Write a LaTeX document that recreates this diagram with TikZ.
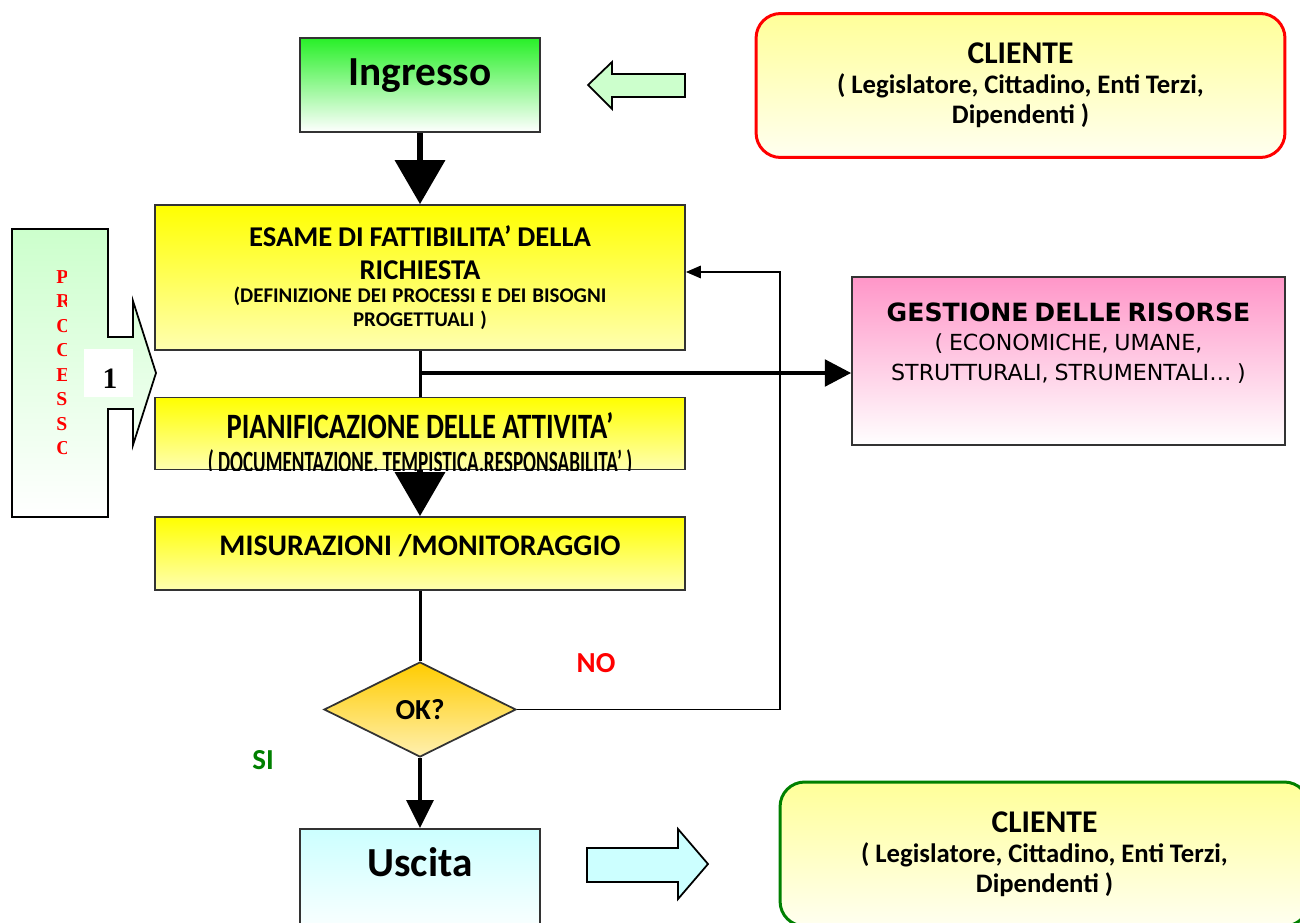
\documentclass[tikz,border=0pt]{standalone}
\usepackage{fontspec}
\setmainfont{Carlito}
\newfontfamily\dejavu{DejaVu Sans}
\newfontfamily\procfont{Liberation Serif}
\newfontfamily\narrowa{Carlito}[FakeStretch=0.8]
\newfontfamily\narrowb{Carlito}[FakeStretch=0.62]
\usetikzlibrary{arrows.meta,shapes.geometric,positioning}
\definecolor{ingtop}{RGB}{40,240,40}
\definecolor{yelbot}{RGB}{255,255,176}
\definecolor{clitop}{RGB}{255,255,153}
\definecolor{clibot}{RGB}{255,255,240}
\definecolor{gestop}{RGB}{255,150,200}
\definecolor{usctop}{RGB}{204,255,255}
\definecolor{oktop}{RGB}{255,204,0}
\definecolor{okbot}{RGB}{255,240,176}
\definecolor{procol}{RGB}{204,255,204}
\definecolor{sigreen}{RGB}{0,128,0}

\begin{document}
\begin{tikzpicture}[x=0.02cm,y=-0.02cm,inner sep=0pt]
 \tikzstyle{box}=[draw=black!80,line width=1pt,rectangle]
 \tikzstyle{ybox}=[box,top color=yellow,bottom color=yelbot,minimum width=10.6cm]
 \tikzstyle{cliente}=[line width=1.7pt,rounded corners=14pt,top color=clitop,bottom color=clibot,minimum width=10.58cm,minimum height=2.88cm,text width=10cm,align=center]
 \tikzstyle{bigarrow}=[line width=3.4pt,-{Triangle[length=25pt,width=28pt]}]
 \tikzstyle{link}=[line width=1.7pt]
 \tikzstyle{hollow}=[draw=black,line width=1pt]
 \tikzstyle{big}=[anchor=base,font={\fontsize{23.5}{28}\selectfont\bfseries}]
 \tikzstyle{mid}=[font={\fontsize{16.5}{20}\selectfont\bfseries}]

 \clip (0,0) rectangle (1300,922);

 % process arrow on the left
 \draw[line width=1pt,top color=procol,bottom color=white] (12,229) -- (108,229) -- (108,337) -- (133,337) -- (133,301) -- (156,373) -- (133,445) -- (133,409) -- (108,409) -- (108,517) -- (12,517) -- cycle;
 \fill[white] (84,349) rectangle (133,397);
 \node[anchor=base,font={\procfont\bfseries\fontsize{16.8}{20}\selectfont}] (one) at (110,388) {1};
 \begin{scope}
  \clip (12,229) rectangle (66,517);
  \node[anchor=north west,align=left,text=red,font={\procfont\bfseries\fontsize{11.2}{13.95}\selectfont}] (proc) at (56,270) {P\\R\\O\\C\\E\\S\\S\\O};
 \end{scope}

 % main column
 \node[box,top color=ingtop,bottom color=white,minimum width=4.8cm,minimum height=1.88cm] (ing) at (420,85) {};
 \node[big] (ingt) at (420,86) {Ingresso};
 \node[ybox,minimum height=2.9cm,text width=10cm,align=center] (esame) at (420,277.5) {{\fontsize{16.3}{18.7}\selectfont\bfseries ESAME DI FATTIBILITA’ DELLA\\ RICHIESTA\par}{\fontsize{11.9}{13.3}\selectfont\bfseries (DEFINIZIONE DEI PROCESSI E DEI BISOGNI\\ PROGETTUALI )\par}};
 \node[ybox,minimum height=1.44cm] (pian) at (420,433.5) {};
 \begin{scope}
  \clip (pian.north west) rectangle (pian.south east);
  \node[anchor=base,font={\narrowa\fontsize{20.3}{24}\selectfont\bfseries}] (piant) at (420,438) {PIANIFICAZIONE DELLE ATTIVITA’};
  \node[anchor=base,font={\narrowb\fontsize{17.6}{20}\selectfont\bfseries}] (pians) at (420,472) {( DOCUMENTAZIONE, TEMPISTICA,RESPONSABILITA’ )};
 \end{scope}
 \node[ybox,minimum height=1.46cm] (misur) at (420,553.5) {};
 \node[anchor=base,font={\fontsize{17}{20}\selectfont\bfseries}] (misurt) at (420,555) {MISURAZIONI /MONITORAGGIO};
 \node[diamond,draw=black!80,line width=1pt,top color=oktop,bottom color=okbot,minimum width=3.84cm,minimum height=1.9cm,mid] (ok) at (420,709.5) {OK?};
 \node[box,top color=usctop,bottom color=white,minimum width=4.8cm,minimum height=2.22cm] (usc) at (420,884.5) {};
 \node[big] (usct) at (420,876) {Uscita};

 % right side
 \node[cliente,draw=red] (cli) at (1020.5,85.5) {{\fontsize{18}{21}\selectfont\bfseries CLIENTE\par}{\fontsize{15.2}{17}\selectfont\bfseries ( Legislatore, Cittadino, Enti Terzi,\\ Dipendenti )\par}};
 \node[box,top color=gestop,bottom color=white,minimum width=8.66cm,minimum height=3.36cm] (gest) at (1068.5,361) {};
 \node[anchor=north,text width=8cm,align=center] (gestt) at (1068.5,302) {{\dejavu\bfseries\fontsize{14.3}{18.7}\selectfont GESTIONE DELLE RISORSE\par}{\dejavu\fontsize{12.6}{17}\selectfont ( ECONOMICHE, UMANE,\\ STRUTTURALI, STRUMENTALI… )\par}};
 \node[cliente,draw=sigreen] (cli2) at (1044.5,854) {{\fontsize{18}{21}\selectfont\bfseries CLIENTE\par}{\fontsize{15.2}{17}\selectfont\bfseries ( Legislatore, Cittadino, Enti Terzi,\\ Dipendenti )\par}};

 % hollow arrows
 \draw[hollow,fill=procol] (588,85) -- (612,62) -- (612,74) -- (685,74) -- (685,97) -- (612,97) -- (612,109) -- cycle;
 \draw[hollow,fill=usctop] (587,848) -- (678,848) -- (678,829) -- (708,864) -- (678,899) -- (678,882) -- (587,882) -- cycle;

 % connectors
 \coordinate (br) at (420,373);
 \coordinate (fb) at (780,272);
 \draw[bigarrow] (ing) -- (esame);
 \draw[link] (esame) -- (pian);
 \draw[line width=2.5pt,-{Triangle[length=15pt,width=15pt]}] (br) -- (br -| gest.west);
 \draw[bigarrow] (pian) -- (misur);
 \draw[link] (misur) -- (ok);
 \draw[line width=1.1pt,-{Triangle[length=8.5pt,width=7pt]}] (ok.east) -| (fb) -- (fb -| esame.east);
 \draw[line width=2.8pt,-{Triangle[length=16pt,width=15pt]}] (ok) -- (usc);

 \node[mid,anchor=base,text=red] (no) at (596,672) {NO};
 \node[mid,anchor=base,text=sigreen] (si) at (263,769) {SI};
\end{tikzpicture}
\end{document}
